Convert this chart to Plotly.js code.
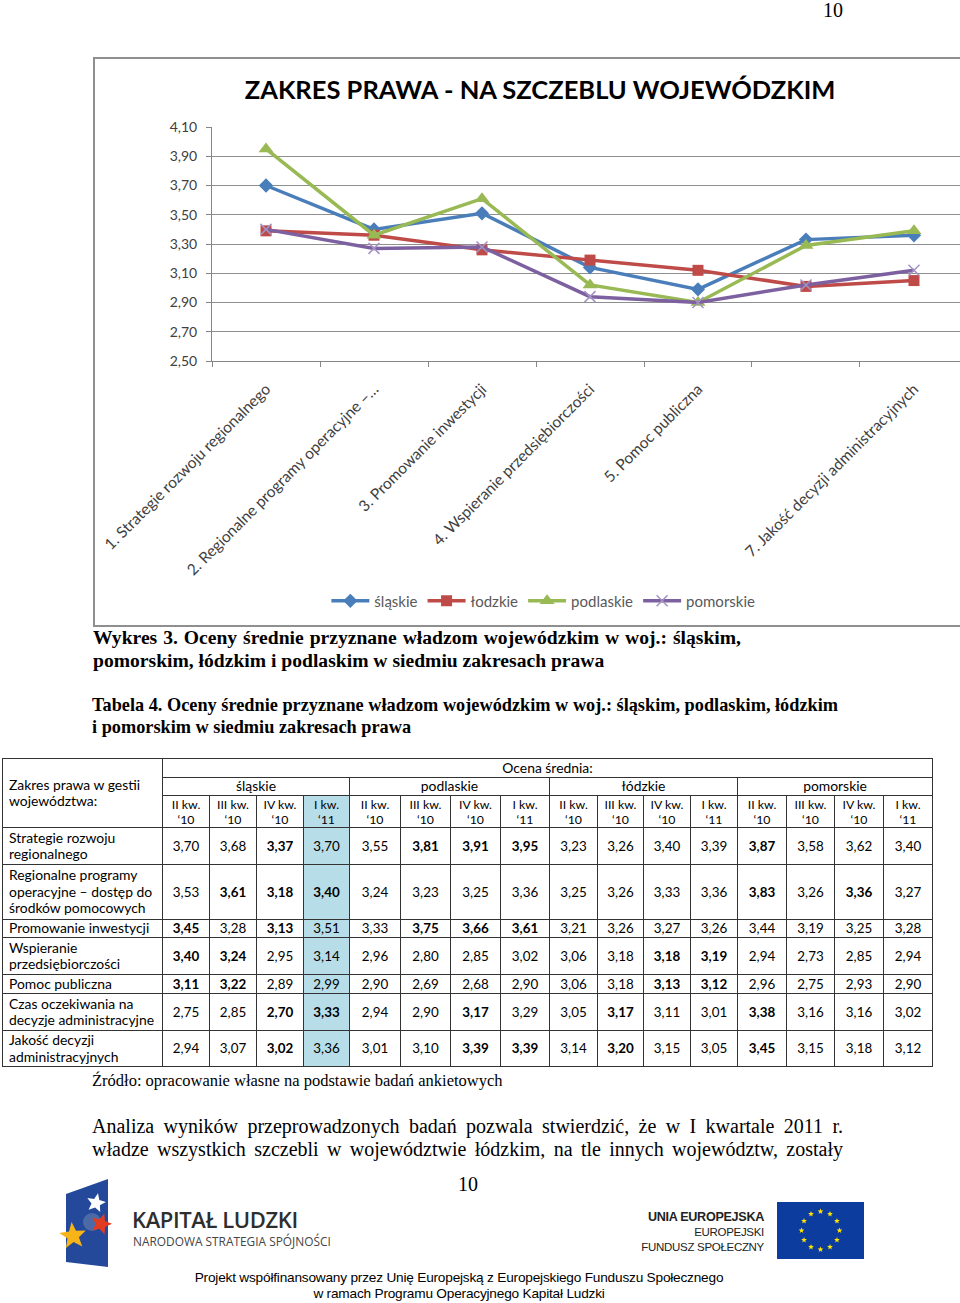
<!DOCTYPE html>
<html><head><meta charset="utf-8">
<script src="https://cdn.plot.ly/plotly-3.0.1.min.js"></script>
<style>
body{margin:0;width:960px;height:1303px;position:relative;background:#fff;overflow:hidden;}
.abs{position:absolute;white-space:nowrap;}
.serif{font-family:"Liberation Serif","Times New Roman",serif;color:#000;}
#chartBox{position:absolute;left:93px;top:57px;width:867px;height:570px;}
#frame{position:absolute;left:93px;top:57px;width:880px;height:566px;border:2px solid #8f8f8f;pointer-events:none;}
#tbl{position:absolute;left:2px;top:758px;border-collapse:collapse;table-layout:fixed;font-family:Lato,"Open Sans",sans-serif;font-size:13.4px;color:#000;}
#tbl td{border:1px solid #333;padding:0;text-align:center;vertical-align:middle;line-height:16.5px;overflow:hidden;white-space:nowrap;}
#tbl td.lab{text-align:left;padding-left:6px;font-size:13.9px;}
#tbl td.hd{font-size:13.9px;}
.just{text-align:justify;text-align-last:justify;}
</style></head><body>
<div class="abs serif" style="left:823px;top:-2px;font-size:20px;line-height:24px;">10</div>
<div id="chartBox"></div>
<div id="frame"></div>
<div class="abs serif just" style="left:93px;top:626px;width:648px;font-size:19.6px;line-height:23px;font-weight:bold;">Wykres 3. Oceny średnie przyznane władzom wojewódzkim w woj.: śląskim,</div>
<div class="abs serif" style="left:93px;top:649px;font-size:19.6px;line-height:23px;font-weight:bold;">pomorskim, łódzkim i podlaskim w siedmiu zakresach prawa</div>
<div class="abs serif" style="left:92px;top:694px;font-size:18.3px;line-height:22px;font-weight:bold;">Tabela 4. Oceny średnie przyznane władzom wojewódzkim w woj.: śląskim, podlaskim, łódzkim<br>i pomorskim w siedmiu zakresach prawa</div>
<table id="tbl"></table>
<div class="abs serif" style="left:92px;top:1071px;font-size:16.5px;line-height:20px;">Źródło: opracowanie własne na podstawie badań ankietowych</div>
<div class="abs serif just" style="left:92px;top:1114px;width:751px;font-size:20px;line-height:24px;">Analiza wyników przeprowadzonych badań pozwala stwierdzić, że w I kwartale 2011 r.</div>
<div class="abs serif just" style="left:92px;top:1137px;width:751px;font-size:20px;line-height:24px;">władze wszystkich szczebli w województwie łódzkim, na tle innych województw, zostały</div>
<div class="abs serif" style="left:458px;top:1172px;font-size:20px;line-height:24px;">10</div>
<svg class="abs" style="left:0;top:0;" width="960" height="1303" id="logos"></svg>
<div class="abs" style="left:132px;top:1205px;font-family:'Open Sans',Lato,sans-serif;font-size:22px;line-height:28px;color:#2e2e2e;font-weight:600;letter-spacing:-0.4px;">KAPITAŁ LUDZKI</div>
<div class="abs" style="left:133px;top:1234px;font-family:'Open Sans',Lato,sans-serif;font-size:11.9px;line-height:14px;color:#444;">NARODOWA STRATEGIA SPÓJNOŚCI</div>
<div class="abs" style="left:600px;top:1210px;width:164px;text-align:right;font-family:'Liberation Sans',Arial,sans-serif;font-size:11.5px;line-height:15px;color:#222;letter-spacing:-0.3px;"><b style="font-size:12.6px">UNIA EUROPEJSKA</b><br>EUROPEJSKI<br>FUNDUSZ SPOŁECZNY</div>
<div class="abs" style="left:130px;top:1270px;width:658px;text-align:center;font-family:'Liberation Sans',Arial,sans-serif;font-size:13.65px;line-height:16px;color:#000;letter-spacing:-0.2px;">Projekt współfinansowany przez Unię Europejską z Europejskiego Funduszu Społecznego<br>w ramach Programu Operacyjnego Kapitał Ludzki</div>
<script>
// ---- chart data ----
const categories = ['1. Strategie rozwoju regionalnego','2. Regionalne programy operacyjne – dostęp do środków pomocowych','3. Promowanie inwestycji','4. Wspieranie przedsiębiorczości','5. Pomoc publiczna','6. Czas oczekiwania na decyzje administracyjne','7. Jakość decyzji administracyjnych'];
const xTickLabels = ['1. Strategie rozwoju regionalnego','2. Regionalne programy operacyjne –…','3. Promowanie inwestycji','4. Wspieranie przedsiębiorczości','5. Pomoc publiczna','','7. Jakość decyzji administracyjnych'];
const seriesNames = ['śląskie','łodzkie','podlaskie','pomorskie'];
const slaskie   = [3.70,3.40,3.51,3.14,2.99,3.33,3.36];
const lodzkie   = [3.39,3.36,3.26,3.19,3.12,3.01,3.05];
const podlaskie = [3.95,3.36,3.61,3.02,2.90,3.29,3.39];
const pomorskie = [3.40,3.27,3.28,2.94,2.90,3.02,3.12];
const yTickVals = [2.50,2.70,2.90,3.10,3.30,3.50,3.70,3.90,4.10];
const chartTitle = 'ZAKRES PRAWA - NA SZCZEBLU WOJEWÓDZKIM';

// ---- table data ----
const tableHeader = 'Ocena średnia:';
const tableCorner = 'Zakres prawa w gestii<br>województwa:';
const tableRegions = ['śląskie','podlaskie','łódzkie','pomorskie'];
const tableQuarters = ['II kw.<br>‘10','III kw.<br>‘10','IV kw.<br>‘10','I kw.<br>‘11'];
const rowLabels = ['Strategie rozwoju<br>regionalnego','Regionalne programy<br>operacyjne – dostęp do<br>środków pomocowych','Promowanie inwestycji','Wspieranie<br>przedsiębiorczości','Pomoc publiczna','Czas oczekiwania na<br>decyzje administracyjne','Jakość decyzji<br>administracyjnych'];
const rowStrategie   = [3.70,3.68,3.37,3.70, 3.55,3.81,3.91,3.95, 3.23,3.26,3.40,3.39, 3.87,3.58,3.62,3.40];
const rowRegionalne  = [3.53,3.61,3.18,3.40, 3.24,3.23,3.25,3.36, 3.25,3.26,3.33,3.36, 3.83,3.26,3.36,3.27];
const rowPromowanie  = [3.45,3.28,3.13,3.51, 3.33,3.75,3.66,3.61, 3.21,3.26,3.27,3.26, 3.44,3.19,3.25,3.28];
const rowWspieranie  = [3.40,3.24,2.95,3.14, 2.96,2.80,2.85,3.02, 3.06,3.18,3.18,3.19, 2.94,2.73,2.85,2.94];
const rowPomoc       = [3.11,3.22,2.89,2.99, 2.90,2.69,2.68,2.90, 3.06,3.18,3.13,3.12, 2.96,2.75,2.93,2.90];
const rowCzas        = [2.75,2.85,2.70,3.33, 2.94,2.90,3.17,3.29, 3.05,3.17,3.11,3.01, 3.38,3.16,3.16,3.02];
const rowJakosc      = [2.94,3.07,3.02,3.36, 3.01,3.10,3.39,3.39, 3.14,3.20,3.15,3.05, 3.45,3.15,3.18,3.12];
const boldStrategie  = [0,0,1,0, 0,1,1,1, 0,0,0,0, 1,0,0,0];
const boldRegionalne = [0,1,1,1, 0,0,0,0, 0,0,0,0, 1,0,1,0];
const boldPromowanie = [1,0,1,0, 0,1,1,1, 0,0,0,0, 0,0,0,0];
const boldWspieranie = [1,1,0,0, 0,0,0,0, 0,0,1,1, 0,0,0,0];
const boldPomoc      = [1,1,0,0, 0,0,0,0, 0,0,1,1, 0,0,0,0];
const boldCzas       = [0,0,1,1, 0,0,1,0, 0,1,0,0, 1,0,0,0];
const boldJakosc     = [0,0,1,0, 0,0,1,1, 0,1,0,0, 1,0,0,0];

// ---- chart ----
const styles = [
  {color:'#4A7EBB', symbol:'diamond', size:11},
  {color:'#BE4B48', symbol:'square', size:11},
  {color:'#98B954', symbol:'triangle-up', size:13},
  {color:'#7D60A0', symbol:'x-thin', size:11}
];
const seriesVals = [slaskie, lodzkie, podlaskie, pomorskie];
const traces = seriesVals.map((v,i)=>{
  const s = styles[i];
  const m = {color:s.color, symbol:s.symbol, size:s.size};
  if (s.symbol==='x-thin') m.line = {color:'#A592C4', width:1.5};
  return {type:'scatter', mode:'lines+markers', name:seriesNames[i], x:categories, y:v,
    line:{color:s.color, width:3.5}, marker:m};
});
const axisFont = {family:'Lato, "Open Sans", sans-serif', size:14, color:'#404040'};
const layout = {
  width:867, height:570,
  margin:{l:119, r:0, t:70, b:266},
  paper_bgcolor:'rgba(0,0,0,0)', plot_bgcolor:'#fff',
  separators:', ',
  showlegend:true,
  title:{text:chartTitle, x:0.5156, xref:'container', xanchor:'center', y:0.942, yref:'container', yanchor:'middle',
    font:{family:'Lato, "Open Sans", sans-serif', size:25.5, color:'#000', weight:'bold'}},
  xaxis:{type:'category', range:[-0.5, 6.426], tickmode:'array', tickvals:categories, ticktext:xTickLabels,
    tickson:'boundaries', ticks:'outside', ticklen:5, tickcolor:'#868686', showline:true, linecolor:'#868686', linewidth:1,
    showgrid:false, tickangle:-45, tickfont:{family:'Lato, "Open Sans", sans-serif', size:15.5, color:'#404040'}, zeroline:false, ticklabelstandoff:12},
  yaxis:{range:[2.5,4.1], tickmode:'array', tickvals:yTickVals, tickformat:'.2f', ticks:'outside', ticklen:5,
    tickcolor:'#868686', showline:true, linecolor:'#868686', linewidth:1, showgrid:true, gridcolor:'#8f8f8f', gridwidth:1,
    zeroline:false, tickfont:axisFont, ticklabelstandoff:6},
  legend:{orientation:'h', x:0.443, xanchor:'center', y:-1.026, yanchor:'middle', font:{family:'Lato, "Open Sans", sans-serif', size:15, color:'#595959'},
    itemwidth:38, bgcolor:'rgba(0,0,0,0)'}
};
Plotly.newPlot('chartBox', traces, layout, {staticPlot:true, displayModeBar:false});

// ---- table ----
const tableRows = [rowStrategie,rowRegionalne,rowPromowanie,rowWspieranie,rowPomoc,rowCzas,rowJakosc];
const boldRows = [boldStrategie,boldRegionalne,boldPromowanie,boldWspieranie,boldPomoc,boldCzas,boldJakosc];
const colWidths = [160, 47,47,47,46, 51,50,50,49, 48,46,47,47, 49,48,49,49];
const headRowHeights = [19,18,32];
const dataRowHeights = [37,55,18,37,19,37,36];
const highlightCol = 3;
const fmt = v => v.toFixed(2).replace('.', ',');
let html = '<colgroup>' + colWidths.map(w=>`<col style="width:${w}px">`).join('') + '</colgroup>';
html += `<tr style="height:${headRowHeights[0]}px"><td class="lab" rowspan="3">${tableCorner}</td><td class="hd" colspan="16">${tableHeader}</td></tr>`;
html += `<tr style="height:${headRowHeights[1]}px">` + tableRegions.map(r=>`<td class="hd" colspan="4">${r}</td>`).join('') + '</tr>';
html += `<tr style="height:${headRowHeights[2]}px;font-size:12.3px">` + tableRegions.map(()=>tableQuarters.map(q=>`<td style="line-height:15px">${q}</td>`).join('')).join('') + '</tr>';
tableRows.forEach((row,ri)=>{
  html += `<tr style="height:${dataRowHeights[ri]}px"><td class="lab">${rowLabels[ri]}</td>`;
  row.forEach((v,ci)=>{
    const st = [];
    if (boldRows[ri][ci]) st.push('font-weight:bold');
    if (ci===highlightCol) st.push('background:#B7DDE8');
    html += `<td style="${st.join(';')}">${fmt(v)}</td>`;
  });
  html += '</tr>';
});
document.getElementById('tbl').innerHTML = html;
document.getElementById('tbl').rows[2].cells[highlightCol].style.background = '#B7DDE8';

// ---- logos (decoration) ----
const svg = document.getElementById('logos');
const NS = 'http://www.w3.org/2000/svg';
function star(cx,cy,R,r,fill,rot){
  let pts=[];
  for(let k=0;k<10;k++){const a=(rot||0)-Math.PI/2+k*Math.PI/5;const rr=k%2?r:R;pts.push((cx+rr*Math.cos(a)).toFixed(1)+','+(cy+rr*Math.sin(a)).toFixed(1));}
  const p=document.createElementNS(NS,'polygon');p.setAttribute('points',pts.join(' '));p.setAttribute('fill',fill);svg.appendChild(p);
}
function el(tag,attrs){const e=document.createElementNS(NS,tag);for(const k in attrs)e.setAttribute(k,attrs[k]);svg.appendChild(e);return e;}
el('polygon',{points:'66,1194 108,1179 108,1267 66,1262', fill:'#24499A'});
el('circle',{cx:92,cy:1222,r:9,fill:'#4d6aa8'});
star(96,1203,10,4.5,'#ffffff',0.2);
star(101,1224,11,5,'#E03C22',0.3);
star(73,1236,14,6,'#F6B418',-0.1);
el('rect',{x:777,y:1202,width:87,height:57,fill:'#0B3C9E'});
for(let k=0;k<12;k++){const a=k*Math.PI/6;star(820.5+19*Math.cos(a),1230.5+19*Math.sin(a),3,1.3,'#FFE500',0);}
</script>
</body></html>
